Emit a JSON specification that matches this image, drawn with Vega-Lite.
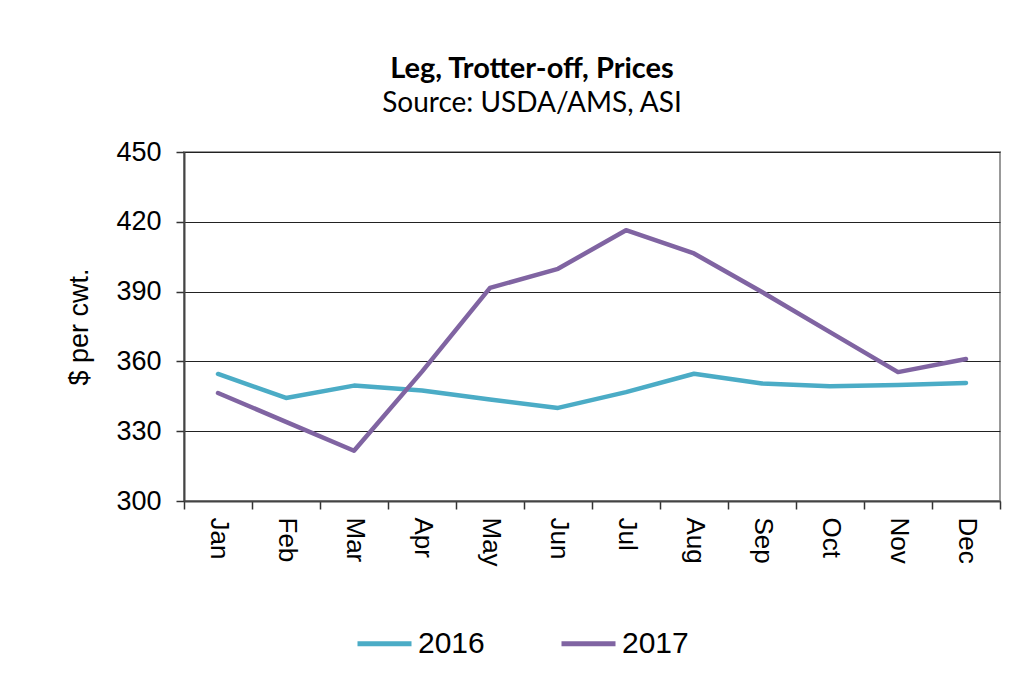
{
  "$schema": "https://vega.github.io/schema/vega-lite/v6.json",
  "autosize": {"type": "none"},
  "width": 816,
  "height": 349,
  "padding": {"left": 184, "top": 152, "right": 23, "bottom": 185},
  "background": "white",
  "title": {
    "text": "Leg, Trotter-off, Prices",
    "subtitle": "Source: USDA/AMS, ASI",
    "anchor": "middle",
    "dx": -60,
    "offset": 20,
    "font": "Lato",
    "fontSize": 29,
    "fontWeight": "bold",
    "color": "#000000",
    "subtitleFont": "Lato",
    "subtitleFontSize": 28,
    "subtitleColor": "#000000",
    "subtitlePadding": 6
  },
  "data": {
    "values": [
      {"month": "Jan", "year": "2016", "price": 354.6},
      {"month": "Feb", "year": "2016", "price": 344.3},
      {"month": "Mar", "year": "2016", "price": 349.6},
      {"month": "Apr", "year": "2016", "price": 347.5},
      {"month": "May", "year": "2016", "price": 343.6},
      {"month": "Jun", "year": "2016", "price": 340.0},
      {"month": "Jul", "year": "2016", "price": 346.8},
      {"month": "Aug", "year": "2016", "price": 354.7},
      {"month": "Sep", "year": "2016", "price": 350.5},
      {"month": "Oct", "year": "2016", "price": 349.3},
      {"month": "Nov", "year": "2016", "price": 349.9},
      {"month": "Dec", "year": "2016", "price": 350.7},
      {"month": "Jan", "year": "2017", "price": 346.4},
      {"month": "Feb", "year": "2017", "price": 334.0},
      {"month": "Mar", "year": "2017", "price": 321.6},
      {"month": "Apr", "year": "2017", "price": 355.6},
      {"month": "May", "year": "2017", "price": 391.6},
      {"month": "Jun", "year": "2017", "price": 399.8},
      {"month": "Jul", "year": "2017", "price": 416.4},
      {"month": "Aug", "year": "2017", "price": 406.4},
      {"month": "Sep", "year": "2017", "price": 389.8},
      {"month": "Oct", "year": "2017", "price": 372.6},
      {"month": "Nov", "year": "2017", "price": 355.4},
      {"month": "Dec", "year": "2017", "price": 361.0}
    ]
  },
  "mark": {"type": "line", "strokeWidth": 4.5, "strokeCap": "round", "strokeJoin": "round"},
  "encoding": {
    "x": {
      "field": "month",
      "type": "ordinal",
      "sort": ["Jan","Feb","Mar","Apr","May","Jun","Jul","Aug","Sep","Oct","Nov","Dec"],
      "scale": {"type": "band", "paddingInner": 0, "paddingOuter": 0},
      "axis": {
        "title": null,
        "labelAngle": 90,
        "labelAlign": "left",
        "labelBaseline": "middle",
        "labelFont": "Liberation Sans",
        "labelFontSize": 26,
        "labelColor": "#000000",
        "labelPadding": 8,
        "tickBand": "extent",
        "tickSize": 8,
        "tickColor": "#333333",
        "tickWidth": 1.5,
        "domainColor": "#444444",
        "domainWidth": 2,
        "grid": false
      }
    },
    "y": {
      "field": "price",
      "type": "quantitative",
      "scale": {"domain": [300, 450], "nice": false, "zero": false},
      "axis": {
        "title": "$ per cwt.",
        "titleFont": "Liberation Sans",
        "titleFontSize": 27,
        "titleFontWeight": "normal",
        "titleColor": "#000000",
        "titlePadding": 22,
        "values": [300, 330, 360, 390, 420, 450],
        "labelFont": "Liberation Sans",
        "labelFontSize": 27,
        "labelColor": "#000000",
        "labelPadding": 15,
        "tickSize": 8,
        "tickColor": "#333333",
        "tickWidth": 1.5,
        "domainColor": "#444444",
        "domainWidth": 2,
        "grid": true,
        "gridColor": "#222222",
        "gridWidth": 1.2
      }
    },
    "color": {
      "field": "year",
      "type": "nominal",
      "scale": {"domain": ["2016", "2017"], "range": ["#4BACC6", "#8064A2"]},
      "legend": {
        "title": null,
        "orient": "none",
        "direction": "horizontal",
        "legendX": 171,
        "legendY": 462,
        "symbolType": "stroke",
        "symbolSize": 2916,
        "symbolStrokeWidth": 5,
        "labelFont": "Liberation Sans",
        "labelFontSize": 30,
        "labelColor": "#000000",
        "labelOffset": 4,
        "columnPadding": 66
      }
    }
  },
  "config": {
    "view": {"stroke": "#999999", "strokeWidth": 2}
  }
}
